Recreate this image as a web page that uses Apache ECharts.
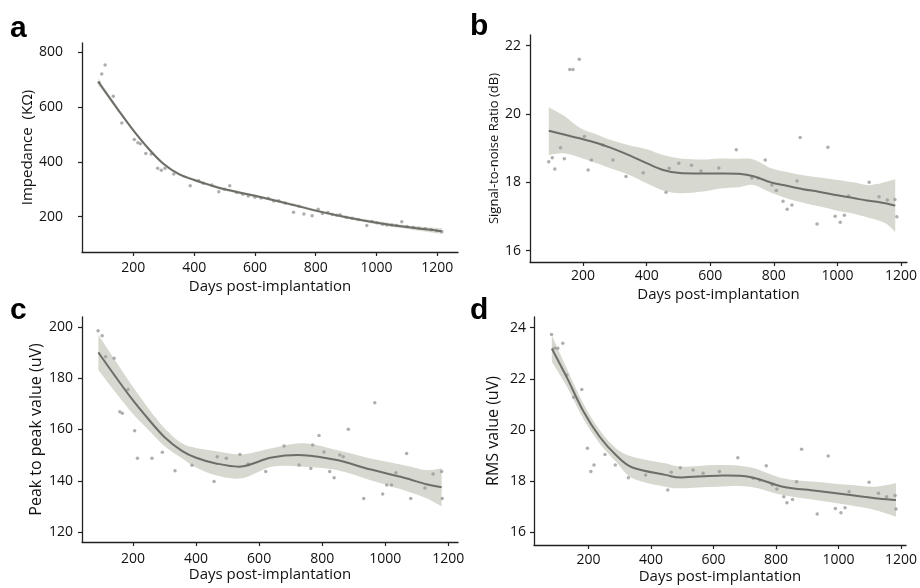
<!DOCTYPE html>
<html><head><meta charset="utf-8">
<script src="https://cdn.jsdelivr.net/npm/echarts@6/dist/echarts.min.js"></script>
<style>html,body{margin:0;padding:0;background:#fff}#c{width:920px;height:588px}</style>
</head><body><div id="c"></div>
<script>
// ---------- Panel a: Impedance ----------
const aDays = [87, 96, 107, 134, 162, 203, 215, 223, 241, 259, 280, 292, 304, 333, 387, 415, 430, 458, 481, 500, 517, 540, 560, 578, 600, 620, 644, 662, 678, 700, 727, 745, 761, 788, 808, 822, 840, 855, 869, 880, 900, 920, 940, 968, 985, 1001, 1020, 1034, 1050, 1066, 1083, 1100, 1121, 1140, 1160, 1180, 1198, 1215];
const aValues = [690, 721, 754, 640, 542, 482, 470, 466, 431, 429, 377, 369, 377, 356, 313, 331, 322, 316, 291, 300, 313, 288, 282, 275, 271, 268, 267, 257, 258, 249, 216, 238, 210, 203, 227, 212, 215, 208, 205, 207, 198, 194, 190, 168, 182, 178, 172, 170, 170, 168, 181, 164, 160, 158, 157, 152, 149, 145];
const aFitDays = [85, 100, 150, 200, 250, 300, 350, 400, 450, 500, 600, 700, 800, 900, 1000, 1100, 1200, 1215];
const aFit = [692, 668, 590, 515, 448, 392, 355, 334, 316, 300, 276, 250, 222, 198, 178, 162, 149, 147];
const aLow = [678, 658, 583, 509, 443, 387, 350, 329, 311, 295, 271, 245, 217, 193, 172, 155, 139, 135];
const aHigh = [706, 678, 597, 521, 453, 397, 360, 339, 321, 305, 281, 255, 227, 203, 184, 169, 159, 159];
const aXTicks = [200, 400, 600, 800, 1000, 1200];
const aYTicks = [200, 400, 600, 800];

// ---------- Panel b: SNR ----------
const bDays = [92, 103, 111, 129, 141, 158, 168, 188, 204, 216, 226, 262, 294, 335, 389, 461, 471, 501, 541, 571, 627, 682, 731, 750, 773, 794, 808, 829, 842, 857, 873, 883, 936, 970, 993, 1009, 1022, 1035, 1100, 1131, 1157, 1181, 1187];
const bValues = [18.60, 18.72, 18.39, 19.01, 18.69, 21.3, 21.3, 21.6, 19.34, 18.36, 18.65, 19.09, 18.65, 18.17, 18.28, 17.71, 18.41, 18.56, 18.50, 18.33, 18.42, 18.95, 18.13, 18.13, 18.65, 17.92, 17.76, 17.45, 17.21, 17.34, 18.04, 19.31, 16.78, 19.03, 17.01, 16.83, 17.04, 17.60, 18.00, 17.58, 17.48, 17.50, 16.99];
const bFitDays = [92, 140, 192, 243, 290, 348, 400, 452, 505, 578, 631, 690, 736, 790, 841, 892, 945, 1000, 1050, 1092, 1124, 1155, 1182];
const bFit = [19.51, 19.40, 19.28, 19.15, 19.00, 18.78, 18.56, 18.36, 18.27, 18.26, 18.26, 18.25, 18.18, 18.00, 17.90, 17.80, 17.72, 17.62, 17.54, 17.47, 17.43, 17.38, 17.32];
const bLow = [18.80, 18.85, 18.72, 18.56, 18.40, 18.21, 17.97, 17.76, 17.68, 17.73, 17.82, 17.86, 17.92, 17.70, 17.53, 17.40, 17.29, 17.17, 17.09, 16.98, 16.90, 16.78, 16.55];
const bHigh = [20.20, 19.95, 19.58, 19.40, 19.23, 19.08, 18.97, 18.80, 18.70, 18.67, 18.70, 18.69, 18.67, 18.42, 18.30, 18.21, 18.14, 18.07, 18.00, 17.92, 17.95, 18.02, 18.08];
const bXTicks = [200, 400, 600, 800, 1000, 1200];
const bYTicks = [16, 18, 20, 22];

// ---------- Panel c: Peak to peak ----------
const cDays = [89, 102, 113, 140, 158, 166, 184, 205, 214, 260, 293, 333, 387, 457, 467, 496, 539, 565, 621, 679, 727, 764, 770, 790, 806, 824, 838, 856, 867, 883, 932, 967, 992, 1005, 1020, 1034, 1068, 1081, 1126, 1152, 1179, 1181];
const cValues = [198.4, 196.5, 188.3, 187.7, 166.9, 166.3, 175.6, 159.5, 148.8, 148.8, 151.1, 143.9, 146.1, 139.8, 149.4, 148.8, 150.3, 146.6, 143.6, 153.6, 146.2, 144.8, 154.0, 157.7, 151.2, 143.6, 141.2, 150.1, 149.4, 160.1, 133.1, 170.4, 134.9, 138.4, 138.4, 143.2, 150.7, 133.1, 137.2, 142.7, 143.6, 133.1];
const cFitDays = [90, 143, 200, 249, 300, 355, 400, 460, 545, 640, 740, 846, 951, 1057, 1131, 1179];
const cFit = [190.0, 180.8, 171.3, 164.0, 157.0, 151.7, 149.0, 146.9, 145.6, 149.1, 150.0, 148.1, 144.5, 141.3, 138.7, 137.5];
const cLow = [183.2, 174.7, 166.0, 159.8, 153.5, 148.8, 145.2, 142.3, 141.0, 145.5, 145.5, 144.2, 140.3, 136.4, 133.2, 130.0];
const cHigh = [196.8, 187.0, 176.5, 168.2, 160.5, 154.6, 152.8, 151.6, 150.3, 152.7, 154.6, 152.0, 148.8, 146.2, 144.2, 144.9];
const cXTicks = [200, 400, 600, 800, 1000, 1200];
const cYTicks = [120, 140, 160, 180, 200];

// ---------- Panel d: RMS ----------
const dDays = [82, 92, 102, 118, 131, 153, 179, 197, 208, 218, 253, 286, 328, 383, 454, 465, 494, 535, 567, 619, 678, 727, 748, 769, 788, 803, 825, 835, 853, 866, 882, 932, 967, 990, 1008, 1021, 1034, 1098, 1128, 1154, 1181, 1184];
const dValues = [23.74, 23.2, 23.2, 23.39, 22.15, 21.28, 21.59, 19.29, 18.38, 18.64, 19.05, 18.64, 18.14, 18.25, 17.66, 18.35, 18.53, 18.44, 18.31, 18.38, 18.92, 18.12, 18.05, 18.61, 17.86, 17.7, 17.4, 17.16, 17.29, 17.98, 19.25, 16.72, 18.99, 16.94, 16.77, 16.97, 17.59, 17.96, 17.53, 17.4, 17.44, 16.92];
const dFitDays = [83, 131, 183, 236, 288, 341, 446, 498, 612, 717, 822, 927, 1031, 1116, 1184];
const dFit = [23.19, 22.06, 20.76, 19.74, 19.03, 18.54, 18.25, 18.15, 18.22, 18.17, 17.79, 17.63, 17.47, 17.34, 17.27];
const dLow = [22.67, 21.70, 20.46, 19.48, 18.77, 18.12, 17.79, 17.73, 17.79, 17.79, 17.46, 17.27, 17.07, 16.88, 16.62];
const dHigh = [23.71, 22.41, 21.05, 20.00, 19.29, 18.96, 18.70, 18.57, 18.64, 18.55, 18.12, 17.98, 17.86, 17.79, 17.92];
const dXTicks = [200, 400, 600, 800, 1000, 1200];
const dYTicks = [16, 18, 20, 22, 24];

const xTitle = 'Days post-implantation';
const yTitles = ['Impedance  (KΩ)', 'Signal-to-noise Ratio (dB)', 'Peak to peak value (uV)', 'RMS value (uV)'];
const panelLetters = ['a', 'b', 'c', 'd'];

// ---------- styling / layout ----------
const FONT = 'Open Sans';
const TXT = '#111';
const BAND = '#d7d8cf';
const LINE = '#6c6f68';
const PT = '#9a9a9a';

const panels = [
  {days: aDays, vals: aValues, fx: aFitDays, fit: aFit, lo: aLow, hi: aHigh, xt: aXTicks, yt: aYTicks,
   grid: {left: 82, top: 43, width: 376, height: 209}, x: [31, 1268], y: [71, 834],
   yLblMargin: 19, xLblMargin: 9, yNameGap: 47, xNameGap: 27, yNameSize: 15, bandOpacity: 0.85},
  {days: bDays, vals: bValues, fx: bFitDays, fit: bFit, lo: bLow, hi: bHigh, xt: bXTicks, yt: bYTicks,
   grid: {left: 530, top: 35, width: 377, height: 227}, x: [33, 1219], y: [15.67, 22.31],
   yLblMargin: 9, xLblMargin: 7, yNameGap: 29, xNameGap: 25, yNameSize: 13, bandOpacity: 1},
  {days: cDays, vals: cValues, fx: cFitDays, fit: cFit, lo: cLow, hi: cHigh, xt: cXTicks, yt: cYTicks,
   grid: {left: 82, top: 317, width: 376, height: 225}, x: [38, 1231], y: [116.2, 203.8],
   yLblMargin: 9, xLblMargin: 10, yNameGap: 38, xNameGap: 22, yNameSize: 16, bandOpacity: 1},
  {days: dDays, vals: dValues, fx: dFitDays, fit: dFit, lo: dLow, hi: dHigh, xt: dXTicks, yt: dYTicks,
   grid: {left: 534, top: 317, width: 378, height: 228}, x: [26, 1216], y: [15.51, 24.42],
   yLblMargin: 8, xLblMargin: 8, yNameGap: 33, xNameGap: 24, yNameSize: 16, bandOpacity: 1}
];

function catmull(pts) {
  let d = '';
  for (let i = 0; i < pts.length - 1; i++) {
    const p0 = pts[i - 1] || pts[i], p1 = pts[i], p2 = pts[i + 1], p3 = pts[i + 2] || p2;
    const c1 = [p1[0] + (p2[0] - p0[0]) / 6, p1[1] + (p2[1] - p0[1]) / 6];
    const c2 = [p2[0] - (p3[0] - p1[0]) / 6, p2[1] - (p3[1] - p1[1]) / 6];
    d += ' C' + c1[0] + ',' + c1[1] + ' ' + c2[0] + ',' + c2[1] + ' ' + p2[0] + ',' + p2[1];
  }
  return d;
}
const plain = v => String(v);

const grids = [], xAxes = [], yAxes = [], series = [], graphics = [];
panels.forEach((p, i) => {
  grids.push(Object.assign({containLabel: false}, p.grid));
  const axisLine = {show: true, onZero: false, lineStyle: {color: '#222', width: 1.3}};
  xAxes.push({
    type: 'value', gridIndex: i, min: p.x[0], max: p.x[1],
    axisLine, splitLine: {show: false},
    axisTick: {show: true, length: 4, customValues: p.xt, lineStyle: {color: '#222', width: 1.2}},
    axisLabel: {customValues: p.xt, formatter: plain, margin: p.xLblMargin, color: TXT, fontSize: 14, fontFamily: FONT},
    name: xTitle, nameLocation: 'middle', nameGap: p.xNameGap,
    nameTextStyle: {color: TXT, fontSize: 15, fontFamily: FONT}
  });
  yAxes.push({
    type: 'value', gridIndex: i, min: p.y[0], max: p.y[1],
    axisLine, splitLine: {show: false},
    axisTick: {show: true, length: 4, customValues: p.yt, lineStyle: {color: '#222', width: 1.2}},
    axisLabel: {customValues: p.yt, formatter: plain, margin: p.yLblMargin, color: TXT, fontSize: 14, fontFamily: FONT},
    name: yTitles[i], nameLocation: 'middle', nameGap: p.yNameGap, nameRotate: 90,
    nameTextStyle: {color: TXT, fontSize: p.yNameSize, fontFamily: FONT}
  });
  const fx = p.fx, lo = p.lo, hi = p.hi, fit = p.fit;
  // confidence band
  series.push({
    type: 'custom', xAxisIndex: i, yAxisIndex: i, silent: true, z: 1,
    data: fx.map((x, k) => [x, lo[k], hi[k]]),
    encode: {x: 0, y: [1, 2]},
    renderItem: function (params, api) {
      if (params.dataIndex !== 0) return null;
      const up = fx.map((x, k) => api.coord([x, hi[k]]));
      const dn = fx.map((x, k) => api.coord([x, lo[k]])).reverse();
      const d = 'M' + up[0][0] + ',' + up[0][1] + catmull(up) +
                ' L' + dn[0][0] + ',' + dn[0][1] + catmull(dn) + ' Z';
      return {type: 'path', shape: {pathData: d}, style: {fill: BAND, opacity: p.bandOpacity}};
    }
  });
  // observations
  series.push({
    type: 'scatter', xAxisIndex: i, yAxisIndex: i, z: 2,
    data: p.days.map((x, k) => [x, p.vals[k]]),
    symbolSize: 3.5, itemStyle: {color: PT}, silent: true
  });
  // fitted curve
  series.push({
    type: 'custom', xAxisIndex: i, yAxisIndex: i, silent: true, z: 3,
    data: fx.map((x, k) => [x, fit[k]]),
    encode: {x: 0, y: 1},
    renderItem: function (params, api) {
      if (params.dataIndex !== 0) return null;
      const pts = fx.map((x, k) => api.coord([x, fit[k]]));
      const d = 'M' + pts[0][0] + ',' + pts[0][1] + catmull(pts);
      return {type: 'path', shape: {pathData: d}, style: {fill: 'none', stroke: LINE, lineWidth: 2}};
    }
  });
});

const letterPos = [[10, 14], [470, 12], [10, 296], [470, 296]];
panelLetters.forEach((t, i) => {
  graphics.push({type: 'text', left: letterPos[i][0], top: letterPos[i][1],
    style: {text: t, fontSize: 30, fontWeight: 'bold', fontFamily: 'Liberation Sans', fill: '#000'}});
});

const chart = echarts.init(document.getElementById('c'), null, {renderer: 'canvas'});
chart.setOption({
  animation: false,
  backgroundColor: '#fff',
  grid: grids, xAxis: xAxes, yAxis: yAxes, series: series, graphic: graphics
});
</script>
</body></html>
